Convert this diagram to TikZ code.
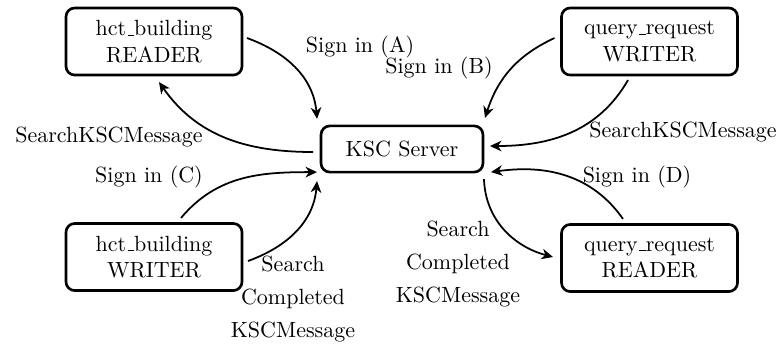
\documentclass[tikz,border=0pt]{standalone}
\usetikzlibrary{arrows.meta}
% short, low underscore rule as in classic LaTeX
\newcommand\lowbar{\leavevmode\kern.06em\vbox{\hrule width.3em}}
\begin{document}
\begin{tikzpicture}[x=0.4545pt, y=-0.4545pt,
  box/.style={draw, line width=1.2pt, rounded corners=4pt,
    minimum width=80pt, minimum height=30.5pt, align=center,
    inner sep=0pt, outer sep=0pt},
  server/.style={box, minimum width=73.6pt, minimum height=21pt},
  link/.style={line width=0.8pt,
    -{Stealth[length=5.2pt,width=4.8pt,inset=1.6pt]}},
  lbl/.style={inner sep=0pt, align=center}]
\useasboundingbox (0,0) rectangle (780,345);

% clients and the server
\node[box] (hr) at (154,41.5) {hct\lowbar building\\READER};
\node[box] (qw) at (649.5,41.5) {query\lowbar request\\WRITER};
\node[server] (ksc) at (402,149) {KSC Server};
\node[box] (hw) at (154,257) {hct\lowbar building\\WRITER};
\node[box] (qr) at (649.5,258) {query\lowbar request\\READER};

% hct_building READER
\draw[link] ([shift={(5,-3.5)}]hr.east) to[out=-20,in=95]
  ([shift={(-4,-7)}]ksc.north west);
\draw[link] ([shift={(-8,3)}]ksc.west) to[out=180,in=-55]
  ([shift={(5,7)}]hr.south);
\node[lbl] (la) at (360,47) {Sign in (A)};
\node[lbl] (ls1) at (109,137) {SearchKSCMessage};

% query_request WRITER
\draw[link] ([shift={(-7,-3.5)}]qw.west) to[out=205,in=72]
  ([shift={(2,-8)}]ksc.north east);
\draw[link] ([shift={(-21.5,5)}]qw.south) to[out=-120,in=0]
  ([shift={(7,-3)}]ksc.east);
\node[lbl] (lb) at (439,68) {Sign in (B)};
\node[lbl] (ls2) at (683,132) {SearchKSCMessage};

% hct_building WRITER
\draw[link] ([shift={(27,-5.5)}]hw.north) to[out=50,in=180]
  ([shift={(-4,0)}]ksc.south west);
\draw[link] ([shift={(6,4)}]hw.east) to[out=20,in=-95]
  ([shift={(-4,9)}]ksc.south west);
\node[lbl] (lc) at (149,177) {Sign in (C)};
\node[lbl] (ls3) at (293,299) {Search\\[3pt]Completed\\[3pt]KSCMessage};

% query_request READER
\draw[link] ([shift={(-26.5,-5.5)}]qr.north) to[out=125,in=8]
  ([shift={(8,0)}]ksc.south east);
\draw[link] ([shift={(1,7)}]ksc.south east) to[out=-88,in=165]
  ([shift={(-8.5,-1)}]qr.west);
\node[lbl] (ld) at (637,177) {Sign in (D)};
\node[lbl] (ls4) at (458,264) {Search\\[3pt]Completed\\[3pt]KSCMessage};
\end{tikzpicture}
\end{document}
